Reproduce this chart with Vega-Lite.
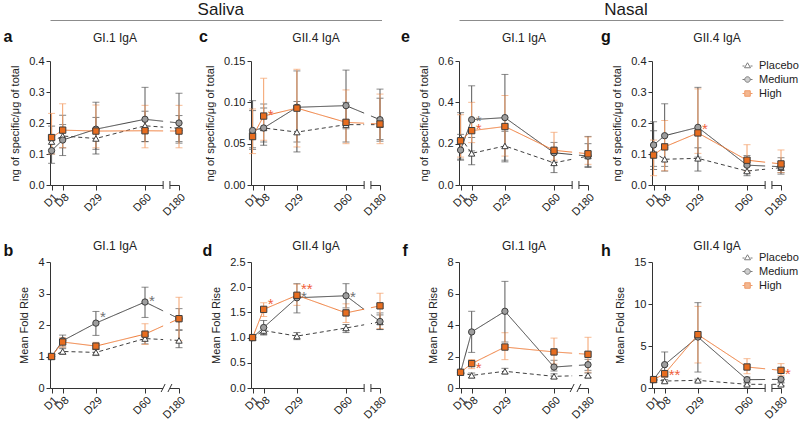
{
  "$schema": "https://vega.github.io/schema/vega-lite/v6.json",
  "background": "white",
  "padding": {"left": 3, "top": 0, "right": 0, "bottom": 0},
  "spacing": 9,
  "config": {
    "font": "Liberation Sans",
    "view": {"stroke": null},
    "axis": {"grid": false, "domainColor": "#333333", "tickColor": "#333333", "labelColor": "#222222", "titleColor": "#222222", "labelFontSize": 11, "titleFontSize": 11, "titleFontWeight": "normal", "labelFlush": false, "labelOverlap": false},
    "axisY": {"labelOverlap": false, "labelFlush": false}
  },
  "datasets": {
    "pts": [
      {"panel":"a","group":"Placebo","day":1,"mean":0.14,"lo":0.10,"hi":0.19},
      {"panel":"a","group":"Placebo","day":8,"mean":0.158,"lo":0.12,"hi":0.225},
      {"panel":"a","group":"Placebo","day":29,"mean":0.15,"lo":0.10,"hi":0.218},
      {"panel":"a","group":"Placebo","day":60,"mean":0.191,"lo":0.14,"hi":0.238},
      {"panel":"a","group":"Placebo","day":180,"mean":0.183,"lo":0.14,"hi":0.224},
      {"panel":"a","group":"Medium","day":1,"mean":0.111,"lo":0.07,"hi":0.155},
      {"panel":"a","group":"Medium","day":8,"mean":0.145,"lo":0.095,"hi":0.195},
      {"panel":"a","group":"Medium","day":29,"mean":0.18,"lo":0.115,"hi":0.267},
      {"panel":"a","group":"Medium","day":60,"mean":0.212,"lo":0.14,"hi":0.315},
      {"panel":"a","group":"Medium","day":180,"mean":0.20,"lo":0.135,"hi":0.296},
      {"panel":"a","group":"High","day":1,"mean":0.153,"lo":0.10,"hi":0.231},
      {"panel":"a","group":"High","day":8,"mean":0.177,"lo":0.12,"hi":0.262},
      {"panel":"a","group":"High","day":29,"mean":0.174,"lo":0.12,"hi":0.258},
      {"panel":"a","group":"High","day":60,"mean":0.175,"lo":0.12,"hi":0.257},
      {"panel":"a","group":"High","day":180,"mean":0.174,"lo":0.12,"hi":0.257},

      {"panel":"c","group":"Placebo","day":1,"mean":0.066,"lo":0.045,"hi":0.09},
      {"panel":"c","group":"Placebo","day":8,"mean":0.069,"lo":0.048,"hi":0.093},
      {"panel":"c","group":"Placebo","day":29,"mean":0.064,"lo":0.04,"hi":0.101},
      {"panel":"c","group":"Placebo","day":60,"mean":0.073,"lo":0.052,"hi":0.1},
      {"panel":"c","group":"Placebo","day":180,"mean":0.073,"lo":0.053,"hi":0.105},
      {"panel":"c","group":"Medium","day":1,"mean":0.066,"lo":0.043,"hi":0.102},
      {"panel":"c","group":"Medium","day":8,"mean":0.069,"lo":0.052,"hi":0.098},
      {"panel":"c","group":"Medium","day":29,"mean":0.094,"lo":0.052,"hi":0.138},
      {"panel":"c","group":"Medium","day":60,"mean":0.096,"lo":0.068,"hi":0.139},
      {"panel":"c","group":"Medium","day":180,"mean":0.079,"lo":0.055,"hi":0.116},
      {"panel":"c","group":"High","day":1,"mean":0.0586,"lo":0.038,"hi":0.092},
      {"panel":"c","group":"High","day":8,"mean":0.0834,"lo":0.054,"hi":0.129},
      {"panel":"c","group":"High","day":29,"mean":0.093,"lo":0.046,"hi":0.14},
      {"panel":"c","group":"High","day":60,"mean":0.0758,"lo":0.05,"hi":0.115},
      {"panel":"c","group":"High","day":180,"mean":0.0738,"lo":0.05,"hi":0.11},

      {"panel":"e","group":"Placebo","day":1,"mean":0.23,"lo":0.125,"hi":0.35},
      {"panel":"e","group":"Placebo","day":8,"mean":0.153,"lo":0.098,"hi":0.23},
      {"panel":"e","group":"Placebo","day":29,"mean":0.189,"lo":0.112,"hi":0.26},
      {"panel":"e","group":"Placebo","day":60,"mean":0.107,"lo":0.06,"hi":0.15},
      {"panel":"e","group":"Placebo","day":180,"mean":0.14,"lo":0.085,"hi":0.2},
      {"panel":"e","group":"Medium","day":1,"mean":0.169,"lo":0.12,"hi":0.245},
      {"panel":"e","group":"Medium","day":8,"mean":0.316,"lo":0.165,"hi":0.48},
      {"panel":"e","group":"Medium","day":29,"mean":0.326,"lo":0.12,"hi":0.535},
      {"panel":"e","group":"Medium","day":60,"mean":0.156,"lo":0.11,"hi":0.206},
      {"panel":"e","group":"Medium","day":180,"mean":0.14,"lo":0.09,"hi":0.235},
      {"panel":"e","group":"High","day":1,"mean":0.214,"lo":0.135,"hi":0.34},
      {"panel":"e","group":"High","day":8,"mean":0.263,"lo":0.205,"hi":0.40},
      {"panel":"e","group":"High","day":29,"mean":0.283,"lo":0.14,"hi":0.433},
      {"panel":"e","group":"High","day":60,"mean":0.168,"lo":0.12,"hi":0.255},
      {"panel":"e","group":"High","day":180,"mean":0.151,"lo":0.10,"hi":0.232},

      {"panel":"g","group":"Placebo","day":1,"mean":0.105,"lo":0.05,"hi":0.175},
      {"panel":"g","group":"Placebo","day":8,"mean":0.083,"lo":0.045,"hi":0.12},
      {"panel":"g","group":"Placebo","day":29,"mean":0.086,"lo":0.045,"hi":0.12},
      {"panel":"g","group":"Placebo","day":60,"mean":0.045,"lo":0.03,"hi":0.06},
      {"panel":"g","group":"Placebo","day":180,"mean":0.056,"lo":0.04,"hi":0.07},
      {"panel":"g","group":"Medium","day":1,"mean":0.129,"lo":0.06,"hi":0.204},
      {"panel":"g","group":"Medium","day":8,"mean":0.159,"lo":0.06,"hi":0.262},
      {"panel":"g","group":"Medium","day":29,"mean":0.186,"lo":0.09,"hi":0.315},
      {"panel":"g","group":"Medium","day":60,"mean":0.064,"lo":0.04,"hi":0.095},
      {"panel":"g","group":"Medium","day":180,"mean":0.059,"lo":0.035,"hi":0.088},
      {"panel":"g","group":"High","day":1,"mean":0.0965,"lo":0.03,"hi":0.145},
      {"panel":"g","group":"High","day":8,"mean":0.123,"lo":0.046,"hi":0.208},
      {"panel":"g","group":"High","day":29,"mean":0.168,"lo":0.102,"hi":0.31},
      {"panel":"g","group":"High","day":60,"mean":0.08,"lo":0.045,"hi":0.13},
      {"panel":"g","group":"High","day":180,"mean":0.068,"lo":0.04,"hi":0.113},

      {"panel":"b","group":"Placebo","day":1,"mean":1.0,"lo":null,"hi":null},
      {"panel":"b","group":"Placebo","day":8,"mean":1.16,"lo":1.07,"hi":1.25},
      {"panel":"b","group":"Placebo","day":29,"mean":1.13,"lo":1.03,"hi":1.22},
      {"panel":"b","group":"Placebo","day":60,"mean":1.57,"lo":1.4,"hi":1.65},
      {"panel":"b","group":"Placebo","day":180,"mean":1.51,"lo":1.28,"hi":1.83},
      {"panel":"b","group":"Medium","day":1,"mean":1.0,"lo":null,"hi":null},
      {"panel":"b","group":"Medium","day":8,"mean":1.5,"lo":1.3,"hi":1.68},
      {"panel":"b","group":"Medium","day":29,"mean":2.06,"lo":1.67,"hi":2.43},
      {"panel":"b","group":"Medium","day":60,"mean":2.73,"lo":2.24,"hi":3.2},
      {"panel":"b","group":"Medium","day":180,"mean":2.2,"lo":1.85,"hi":2.52},
      {"panel":"b","group":"High","day":1,"mean":1.0,"lo":null,"hi":null},
      {"panel":"b","group":"High","day":8,"mean":1.46,"lo":1.3,"hi":1.6},
      {"panel":"b","group":"High","day":29,"mean":1.33,"lo":1.22,"hi":1.45},
      {"panel":"b","group":"High","day":60,"mean":1.71,"lo":1.38,"hi":2.04},
      {"panel":"b","group":"High","day":180,"mean":2.2,"lo":1.5,"hi":2.88},

      {"panel":"d","group":"Placebo","day":1,"mean":1.0,"lo":null,"hi":null},
      {"panel":"d","group":"Placebo","day":8,"mean":1.14,"lo":1.06,"hi":1.2},
      {"panel":"d","group":"Placebo","day":29,"mean":1.03,"lo":0.96,"hi":1.1},
      {"panel":"d","group":"Placebo","day":60,"mean":1.19,"lo":1.1,"hi":1.26},
      {"panel":"d","group":"Placebo","day":180,"mean":1.31,"lo":1.16,"hi":1.45},
      {"panel":"d","group":"Medium","day":1,"mean":1.0,"lo":null,"hi":null},
      {"panel":"d","group":"Medium","day":8,"mean":1.2,"lo":1.05,"hi":1.34},
      {"panel":"d","group":"Medium","day":29,"mean":1.79,"lo":1.49,"hi":2.07},
      {"panel":"d","group":"Medium","day":60,"mean":1.83,"lo":1.59,"hi":2.07},
      {"panel":"d","group":"Medium","day":180,"mean":1.32,"lo":1.16,"hi":1.49},
      {"panel":"d","group":"High","day":1,"mean":1.0,"lo":null,"hi":null},
      {"panel":"d","group":"High","day":8,"mean":1.56,"lo":1.42,"hi":1.69},
      {"panel":"d","group":"High","day":29,"mean":1.84,"lo":1.64,"hi":2.06},
      {"panel":"d","group":"High","day":60,"mean":1.49,"lo":1.3,"hi":1.67},
      {"panel":"d","group":"High","day":180,"mean":1.63,"lo":1.18,"hi":1.88},

      {"panel":"f","group":"Placebo","day":1,"mean":1.0,"lo":null,"hi":null},
      {"panel":"f","group":"Placebo","day":8,"mean":0.8,"lo":0.65,"hi":0.95},
      {"panel":"f","group":"Placebo","day":29,"mean":1.06,"lo":0.9,"hi":1.25},
      {"panel":"f","group":"Placebo","day":60,"mean":0.74,"lo":0.6,"hi":0.9},
      {"panel":"f","group":"Placebo","day":180,"mean":0.8,"lo":0.65,"hi":0.95},
      {"panel":"f","group":"Medium","day":1,"mean":1.0,"lo":null,"hi":null},
      {"panel":"f","group":"Medium","day":8,"mean":3.56,"lo":2.26,"hi":4.87},
      {"panel":"f","group":"Medium","day":29,"mean":4.87,"lo":2.92,"hi":6.77},
      {"panel":"f","group":"Medium","day":60,"mean":1.33,"lo":1.08,"hi":1.76},
      {"panel":"f","group":"Medium","day":180,"mean":1.48,"lo":1.12,"hi":1.82},
      {"panel":"f","group":"High","day":1,"mean":1.0,"lo":null,"hi":null},
      {"panel":"f","group":"High","day":8,"mean":1.55,"lo":1.23,"hi":1.8},
      {"panel":"f","group":"High","day":29,"mean":2.6,"lo":1.8,"hi":3.51},
      {"panel":"f","group":"High","day":60,"mean":2.29,"lo":1.52,"hi":3.17},
      {"panel":"f","group":"High","day":180,"mean":2.14,"lo":1.0,"hi":3.22},

      {"panel":"h","group":"Placebo","day":1,"mean":1.0,"lo":null,"hi":null},
      {"panel":"h","group":"Placebo","day":8,"mean":0.83,"lo":0.7,"hi":1.0},
      {"panel":"h","group":"Placebo","day":29,"mean":0.91,"lo":0.8,"hi":1.05},
      {"panel":"h","group":"Placebo","day":60,"mean":0.44,"lo":0.3,"hi":0.6},
      {"panel":"h","group":"Placebo","day":180,"mean":0.44,"lo":0.3,"hi":0.6},
      {"panel":"h","group":"Medium","day":1,"mean":1.0,"lo":null,"hi":null},
      {"panel":"h","group":"Medium","day":8,"mean":2.78,"lo":1.3,"hi":4.29},
      {"panel":"h","group":"Medium","day":29,"mean":6.07,"lo":1.9,"hi":10.16},
      {"panel":"h","group":"Medium","day":60,"mean":0.99,"lo":0.7,"hi":1.3},
      {"panel":"h","group":"Medium","day":180,"mean":1.03,"lo":0.7,"hi":1.3},
      {"panel":"h","group":"High","day":1,"mean":1.0,"lo":null,"hi":null},
      {"panel":"h","group":"High","day":8,"mean":1.7,"lo":1.3,"hi":2.1},
      {"panel":"h","group":"High","day":29,"mean":6.35,"lo":2.98,"hi":9.72},
      {"panel":"h","group":"High","day":60,"mean":2.5,"lo":1.7,"hi":3.49},
      {"panel":"h","group":"High","day":180,"mean":2.1,"lo":1.5,"hi":2.9}
    ],
    "stars": [
      {"panel":"c","group":"High","day":8,"at":0.09,"sig":"*"},
      {"panel":"e","group":"Medium","day":8,"at":0.33,"sig":"*"},
      {"panel":"e","group":"High","day":8,"at":0.29,"sig":"*"},
      {"panel":"g","group":"High","day":29,"at":0.195,"sig":"*"},
      {"panel":"b","group":"Medium","day":29,"at":2.39,"sig":"*"},
      {"panel":"b","group":"Medium","day":60,"at":2.89,"sig":"*"},
      {"panel":"d","group":"High","day":8,"at":1.75,"sig":"*"},
      {"panel":"d","group":"High","day":29,"at":2.04,"sig":"**"},
      {"panel":"d","group":"Medium","day":29,"at":1.89,"sig":"*"},
      {"panel":"d","group":"Medium","day":60,"at":1.89,"sig":"*"},
      {"panel":"f","group":"High","day":8,"at":1.55,"sig":"*"},
      {"panel":"h","group":"High","day":8,"at":1.98,"sig":"**"},
      {"panel":"h","group":"High","day":180,"at":2.18,"sig":"*"}
    ]
  },
  "vconcat": [
    {
      "bounds": "flush", "spacing": 77,
      "hconcat": [
        {"width": 331.5, "height": 20, "data": {"values": [{"region": "Saliva"}]},
         "mark": {"type": "text", "fontSize": 17, "color": "#1a1a1a", "dx": 5},
         "encoding": {"x": {"field": "region", "type": "nominal", "axis": {"title": null, "labels": false, "ticks": false, "domain": true, "domainColor": "#8c8c8c"}}, "text": {"field": "region"}}},
        {"width": 324, "height": 20, "data": {"values": [{"region": "Nasal"}]},
         "mark": {"type": "text", "fontSize": 17, "color": "#1a1a1a", "dx": 5},
         "encoding": {"x": {"field": "region", "type": "nominal", "axis": {"title": null, "labels": false, "ticks": false, "domain": true, "domainColor": "#8c8c8c"}}, "text": {"field": "region"}}}
      ]
    },
    {
      "spacing": 21,
      "vconcat": [
        {
          "bounds": "flush", "spacing": 62,
          "hconcat": [
              {"width": 138.5, "height": 124,
               "title": {"text": "a", "anchor": "start", "frame": "group", "dx": -46.5, "dy": 14, "offset": 0, "fontSize": 16, "fontWeight": "bold", "color": "#111111"},
               "data": {"name": "pts"},
               "resolve": {"scale": {"color": "independent", "fill": "independent", "shape": "independent", "stroke": "independent", "strokeDash": "independent"}, "axis": {"x": "independent"}},
               "layer": [
                 {"transform": [{"filter": "datum.panel==='a'"}], "mark": {"type": "errorbar", "ticks": {"size": 7, "thickness": 1}, "rule": {"strokeWidth": 1}},
                  "encoding": {"x": {"field": "day", "type": "quantitative", "scale": {"domain": [0,60,180], "range": [0,95,129], "nice": false, "zero": false}, "axis": null},
                    "y": {"field": "lo", "type": "quantitative", "title": "ng of specific/μg of total", "scale": {"domain": [0,0.4], "nice": false},
                      "axis": {"values": [0,0.1,0.2,0.3,0.4], "tickCount": 10, "format": ".1f", "title": "ng of specific/μg of total", "tickSize": 4, "labelPadding": 2, "titlePadding": 8, "labelOverlap": false}}, "y2": {"field": "hi"},
                    "color": {"field": "group", "type": "nominal", "scale": {"domain": ["Placebo","Medium","High"], "range": ["#4d4d4d","#5a5a5a","#f4a06a"]}, "legend": null}}},
                 {"transform": [{"filter": "datum.panel==='a'"}], "mark": {"type": "line", "strokeWidth": 1},
                  "encoding": {"x": {"field": "day", "type": "quantitative", "scale": {"domain": [0,60,180], "range": [0,95,129], "nice": false, "zero": false}, "axis": null},
                    "y": {"field": "mean", "type": "quantitative", "scale": {"domain": [0,0.4], "nice": false}},
                    "color": {"field": "group", "type": "nominal", "scale": {"domain": ["Placebo","Medium","High"], "range": ["#3f3f3f","#3f3f3f","#ef7a36"]}, "legend": null},
                    "strokeDash": {"field": "group", "type": "nominal", "scale": {"domain": ["Placebo","Medium","High"], "range": [[4,3],[1,0],[1,0]]}, "legend": null}}},
                 {"transform": [{"filter": "datum.panel==='a'"}], "mark": {"type": "point", "filled": true, "size": 40, "stroke": "#3d3d3d", "strokeWidth": 1, "opacity": 1},
                  "encoding": {"x": {"field": "day", "type": "quantitative", "scale": {"domain": [0,60,180], "range": [0,95,129], "nice": false, "zero": false},
                      "axis": {"values": [1,8,29,60,180], "tickCount": 10, "labelExpr": "'D' + datum.value", "labelAngle": -45, "title": null, "tickSize": 5, "labelPadding": 1}},
                    "y": {"field": "mean", "type": "quantitative", "scale": {"domain": [0,0.4], "nice": false},
                      "axis": {"values": [0,0.1,0.2,0.3,0.4], "tickCount": 10, "format": ".1f", "title": "ng of specific/μg of total", "tickSize": 4, "labelPadding": 2, "titlePadding": 8, "labelOverlap": false}},
                    "shape": {"field": "group", "type": "nominal", "scale": {"domain": ["Placebo","Medium","High"], "range": ["triangle-up","circle","square"]}, "legend": null},
                    "fill": {"field": "group", "type": "nominal", "scale": {"domain": ["Placebo","Medium","High"], "range": ["#ffffff","#9e9e9e","#e86d1f"]}, "legend": null}}},
                 {"data": {"values": [{}]}, "mark": {"type": "rect", "fill": "#ffffff", "yOffset": 3},
                  "encoding": {"x": {"datum": 124, "type": "quantitative", "scale": {"domain": [0,60,180], "range": [0,95,129], "nice": false, "zero": false},
                      "axis": {"orient": "top", "title": "GI.1 IgA", "labels": false, "ticks": false, "domain": false, "titleFontSize": 12, "titleFontWeight": "normal", "titlePadding": 17}},
                    "x2": {"datum": 148}, "y": {"datum": 0, "type": "quantitative", "scale": {"domain": [0,0.4], "nice": false}}, "y2": {"datum": 0.4}}},
                 {"data": {"values": [{}]}, "mark": {"type": "rule", "color": "#333333", "strokeWidth": 1, "yOffset": 4, "y2Offset": -4},
                  "encoding": {"x": {"datum": 124, "type": "quantitative", "scale": {"domain": [0,60,180], "range": [0,95,129], "nice": false, "zero": false}, "axis": null},
                    "y": {"datum": 0, "type": "quantitative", "scale": {"domain": [0,0.4], "nice": false}}, "y2": {"datum": 0}}},
                 {"data": {"values": [{}]}, "mark": {"type": "rule", "color": "#333333", "strokeWidth": 1, "yOffset": 4, "y2Offset": -4},
                  "encoding": {"x": {"datum": 148, "type": "quantitative", "scale": {"domain": [0,60,180], "range": [0,95,129], "nice": false, "zero": false}, "axis": null},
                    "y": {"datum": 0, "type": "quantitative", "scale": {"domain": [0,0.4], "nice": false}}, "y2": {"datum": 0}}}
               ]},
              {"width": 146, "height": 124,
               "title": {"text": "c", "anchor": "start", "frame": "group", "dx": -52, "dy": 14, "offset": 0, "fontSize": 16, "fontWeight": "bold", "color": "#111111"},
               "data": {"name": "pts"},
               "resolve": {"scale": {"color": "independent", "fill": "independent", "shape": "independent", "stroke": "independent", "strokeDash": "independent"}, "axis": {"x": "independent"}},
               "layer": [
                 {"transform": [{"filter": "datum.panel==='c'"}], "mark": {"type": "errorbar", "ticks": {"size": 7, "thickness": 1}, "rule": {"strokeWidth": 1}},
                  "encoding": {"x": {"field": "day", "type": "quantitative", "scale": {"domain": [0,60,180], "range": [0,95,129], "nice": false, "zero": false}, "axis": null},
                    "y": {"field": "lo", "type": "quantitative", "title": "ng of specific/μg of total", "scale": {"domain": [0,0.15], "nice": false},
                      "axis": {"values": [0,0.05,0.1,0.15], "tickCount": 10, "format": ".2f", "title": "ng of specific/μg of total", "tickSize": 4, "labelPadding": 2, "titlePadding": 8, "labelOverlap": false}}, "y2": {"field": "hi"},
                    "color": {"field": "group", "type": "nominal", "scale": {"domain": ["Placebo","Medium","High"], "range": ["#4d4d4d","#5a5a5a","#f4a06a"]}, "legend": null}}},
                 {"transform": [{"filter": "datum.panel==='c'"}], "mark": {"type": "line", "strokeWidth": 1},
                  "encoding": {"x": {"field": "day", "type": "quantitative", "scale": {"domain": [0,60,180], "range": [0,95,129], "nice": false, "zero": false}, "axis": null},
                    "y": {"field": "mean", "type": "quantitative", "scale": {"domain": [0,0.15], "nice": false}},
                    "color": {"field": "group", "type": "nominal", "scale": {"domain": ["Placebo","Medium","High"], "range": ["#3f3f3f","#3f3f3f","#ef7a36"]}, "legend": null},
                    "strokeDash": {"field": "group", "type": "nominal", "scale": {"domain": ["Placebo","Medium","High"], "range": [[4,3],[1,0],[1,0]]}, "legend": null}}},
                 {"transform": [{"filter": "datum.panel==='c'"}], "mark": {"type": "point", "filled": true, "size": 40, "stroke": "#3d3d3d", "strokeWidth": 1, "opacity": 1},
                  "encoding": {"x": {"field": "day", "type": "quantitative", "scale": {"domain": [0,60,180], "range": [0,95,129], "nice": false, "zero": false},
                      "axis": {"values": [1,8,29,60,180], "tickCount": 10, "labelExpr": "'D' + datum.value", "labelAngle": -45, "title": null, "tickSize": 5, "labelPadding": 1}},
                    "y": {"field": "mean", "type": "quantitative", "scale": {"domain": [0,0.15], "nice": false},
                      "axis": {"values": [0,0.05,0.1,0.15], "tickCount": 10, "format": ".2f", "title": "ng of specific/μg of total", "tickSize": 4, "labelPadding": 2, "titlePadding": 8, "labelOverlap": false}},
                    "shape": {"field": "group", "type": "nominal", "scale": {"domain": ["Placebo","Medium","High"], "range": ["triangle-up","circle","square"]}, "legend": null},
                    "fill": {"field": "group", "type": "nominal", "scale": {"domain": ["Placebo","Medium","High"], "range": ["#ffffff","#9e9e9e","#e86d1f"]}, "legend": null}}},
                 {"data": {"name": "stars"}, "transform": [{"filter": "datum.panel==='c'"}], "mark": {"type": "text", "align": "left", "baseline": "middle", "dx": 4, "dy": 4, "fontSize": 15},
                  "encoding": {"x": {"field": "day", "type": "quantitative", "scale": {"domain": [0,60,180], "range": [0,95,129], "nice": false, "zero": false}, "axis": null},
                    "y": {"field": "at", "type": "quantitative", "scale": {"domain": [0,0.15], "nice": false}},
                    "text": {"field": "sig"},
                    "color": {"field": "group", "type": "nominal", "scale": {"domain": ["Medium","High"], "range": ["#707070","#f0603a"]}, "legend": null}}},
                 {"data": {"values": [{}]}, "mark": {"type": "rect", "fill": "#ffffff", "yOffset": 3},
                  "encoding": {"x": {"datum": 124, "type": "quantitative", "scale": {"domain": [0,60,180], "range": [0,95,129], "nice": false, "zero": false},
                      "axis": {"orient": "top", "title": "GII.4 IgA", "labels": false, "ticks": false, "domain": false, "titleFontSize": 12, "titleFontWeight": "normal", "titlePadding": 17}},
                    "x2": {"datum": 148}, "y": {"datum": 0, "type": "quantitative", "scale": {"domain": [0,0.15], "nice": false}}, "y2": {"datum": 0.15}}},
                 {"data": {"values": [{}]}, "mark": {"type": "rule", "color": "#333333", "strokeWidth": 1, "yOffset": 4, "y2Offset": -4},
                  "encoding": {"x": {"datum": 124, "type": "quantitative", "scale": {"domain": [0,60,180], "range": [0,95,129], "nice": false, "zero": false}, "axis": null},
                    "y": {"datum": 0, "type": "quantitative", "scale": {"domain": [0,0.15], "nice": false}}, "y2": {"datum": 0}}},
                 {"data": {"values": [{}]}, "mark": {"type": "rule", "color": "#333333", "strokeWidth": 1, "yOffset": 4, "y2Offset": -4},
                  "encoding": {"x": {"datum": 148, "type": "quantitative", "scale": {"domain": [0,60,180], "range": [0,95,129], "nice": false, "zero": false}, "axis": null},
                    "y": {"datum": 0, "type": "quantitative", "scale": {"domain": [0,0.15], "nice": false}}, "y2": {"datum": 0}}}
               ]},
              {"width": 131, "height": 124,
               "title": {"text": "e", "anchor": "start", "frame": "group", "dx": -58, "dy": 14, "offset": 0, "fontSize": 16, "fontWeight": "bold", "color": "#111111"},
               "data": {"name": "pts"},
               "resolve": {"scale": {"color": "independent", "fill": "independent", "shape": "independent", "stroke": "independent", "strokeDash": "independent"}, "axis": {"x": "independent"}},
               "layer": [
                 {"transform": [{"filter": "datum.panel==='e'"}], "mark": {"type": "errorbar", "ticks": {"size": 7, "thickness": 1}, "rule": {"strokeWidth": 1}},
                  "encoding": {"x": {"field": "day", "type": "quantitative", "scale": {"domain": [0,60,180], "range": [0,95,129], "nice": false, "zero": false}, "axis": null},
                    "y": {"field": "lo", "type": "quantitative", "title": "ng of specific/μg of total", "scale": {"domain": [0,0.6], "nice": false},
                      "axis": {"values": [0,0.2,0.4,0.6], "tickCount": 10, "format": ".1f", "title": "ng of specific/μg of total", "tickSize": 4, "labelPadding": 2, "titlePadding": 8, "labelOverlap": false}}, "y2": {"field": "hi"},
                    "color": {"field": "group", "type": "nominal", "scale": {"domain": ["Placebo","Medium","High"], "range": ["#4d4d4d","#5a5a5a","#f4a06a"]}, "legend": null}}},
                 {"transform": [{"filter": "datum.panel==='e'"}], "mark": {"type": "line", "strokeWidth": 1},
                  "encoding": {"x": {"field": "day", "type": "quantitative", "scale": {"domain": [0,60,180], "range": [0,95,129], "nice": false, "zero": false}, "axis": null},
                    "y": {"field": "mean", "type": "quantitative", "scale": {"domain": [0,0.6], "nice": false}},
                    "color": {"field": "group", "type": "nominal", "scale": {"domain": ["Placebo","Medium","High"], "range": ["#3f3f3f","#3f3f3f","#ef7a36"]}, "legend": null},
                    "strokeDash": {"field": "group", "type": "nominal", "scale": {"domain": ["Placebo","Medium","High"], "range": [[4,3],[1,0],[1,0]]}, "legend": null}}},
                 {"transform": [{"filter": "datum.panel==='e'"}], "mark": {"type": "point", "filled": true, "size": 40, "stroke": "#3d3d3d", "strokeWidth": 1, "opacity": 1},
                  "encoding": {"x": {"field": "day", "type": "quantitative", "scale": {"domain": [0,60,180], "range": [0,95,129], "nice": false, "zero": false},
                      "axis": {"values": [1,8,29,60,180], "tickCount": 10, "labelExpr": "'D' + datum.value", "labelAngle": -45, "title": null, "tickSize": 5, "labelPadding": 1}},
                    "y": {"field": "mean", "type": "quantitative", "scale": {"domain": [0,0.6], "nice": false},
                      "axis": {"values": [0,0.2,0.4,0.6], "tickCount": 10, "format": ".1f", "title": "ng of specific/μg of total", "tickSize": 4, "labelPadding": 2, "titlePadding": 8, "labelOverlap": false}},
                    "shape": {"field": "group", "type": "nominal", "scale": {"domain": ["Placebo","Medium","High"], "range": ["triangle-up","circle","square"]}, "legend": null},
                    "fill": {"field": "group", "type": "nominal", "scale": {"domain": ["Placebo","Medium","High"], "range": ["#ffffff","#9e9e9e","#e86d1f"]}, "legend": null}}},
                 {"data": {"name": "stars"}, "transform": [{"filter": "datum.panel==='e'"}], "mark": {"type": "text", "align": "left", "baseline": "middle", "dx": 4, "dy": 4, "fontSize": 15},
                  "encoding": {"x": {"field": "day", "type": "quantitative", "scale": {"domain": [0,60,180], "range": [0,95,129], "nice": false, "zero": false}, "axis": null},
                    "y": {"field": "at", "type": "quantitative", "scale": {"domain": [0,0.6], "nice": false}},
                    "text": {"field": "sig"},
                    "color": {"field": "group", "type": "nominal", "scale": {"domain": ["Medium","High"], "range": ["#707070","#f0603a"]}, "legend": null}}},
                 {"data": {"values": [{}]}, "mark": {"type": "rect", "fill": "#ffffff", "yOffset": 3},
                  "encoding": {"x": {"datum": 124, "type": "quantitative", "scale": {"domain": [0,60,180], "range": [0,95,129], "nice": false, "zero": false},
                      "axis": {"orient": "top", "title": "GI.1 IgA", "labels": false, "ticks": false, "domain": false, "titleFontSize": 12, "titleFontWeight": "normal", "titlePadding": 17}},
                    "x2": {"datum": 148}, "y": {"datum": 0, "type": "quantitative", "scale": {"domain": [0,0.6], "nice": false}}, "y2": {"datum": 0.6}}},
                 {"data": {"values": [{}]}, "mark": {"type": "rule", "color": "#333333", "strokeWidth": 1, "yOffset": 4, "y2Offset": -4},
                  "encoding": {"x": {"datum": 124, "type": "quantitative", "scale": {"domain": [0,60,180], "range": [0,95,129], "nice": false, "zero": false}, "axis": null},
                    "y": {"datum": 0, "type": "quantitative", "scale": {"domain": [0,0.6], "nice": false}}, "y2": {"datum": 0}}},
                 {"data": {"values": [{}]}, "mark": {"type": "rule", "color": "#333333", "strokeWidth": 1, "yOffset": 4, "y2Offset": -4},
                  "encoding": {"x": {"datum": 148, "type": "quantitative", "scale": {"domain": [0,60,180], "range": [0,95,129], "nice": false, "zero": false}, "axis": null},
                    "y": {"datum": 0, "type": "quantitative", "scale": {"domain": [0,0.6], "nice": false}}, "y2": {"datum": 0}}}
               ]},
              {"width": 131, "height": 124,
               "title": {"text": "g", "anchor": "start", "frame": "group", "dx": -51, "dy": 14, "offset": 0, "fontSize": 16, "fontWeight": "bold", "color": "#111111"},
               "data": {"name": "pts"},
               "resolve": {"scale": {"color": "independent", "fill": "independent", "shape": "independent", "stroke": "independent", "strokeDash": "independent"}, "axis": {"x": "independent"}},
               "layer": [
                 {"transform": [{"filter": "datum.panel==='g'"}], "mark": {"type": "errorbar", "ticks": {"size": 7, "thickness": 1}, "rule": {"strokeWidth": 1}},
                  "encoding": {"x": {"field": "day", "type": "quantitative", "scale": {"domain": [0,60,180], "range": [0,95,129], "nice": false, "zero": false}, "axis": null},
                    "y": {"field": "lo", "type": "quantitative", "title": "ng of specific/μg of total", "scale": {"domain": [0,0.4], "nice": false},
                      "axis": {"values": [0,0.1,0.2,0.3,0.4], "tickCount": 10, "format": ".1f", "title": "ng of specific/μg of total", "tickSize": 4, "labelPadding": 2, "titlePadding": 8, "labelOverlap": false}}, "y2": {"field": "hi"},
                    "color": {"field": "group", "type": "nominal", "scale": {"domain": ["Placebo","Medium","High"], "range": ["#4d4d4d","#5a5a5a","#f4a06a"]}, "legend": null}}},
                 {"transform": [{"filter": "datum.panel==='g'"}], "mark": {"type": "line", "strokeWidth": 1},
                  "encoding": {"x": {"field": "day", "type": "quantitative", "scale": {"domain": [0,60,180], "range": [0,95,129], "nice": false, "zero": false}, "axis": null},
                    "y": {"field": "mean", "type": "quantitative", "scale": {"domain": [0,0.4], "nice": false}},
                    "color": {"field": "group", "type": "nominal", "scale": {"domain": ["Placebo","Medium","High"], "range": ["#3f3f3f","#3f3f3f","#ef7a36"]}, "legend": null},
                    "strokeDash": {"field": "group", "type": "nominal", "scale": {"domain": ["Placebo","Medium","High"], "range": [[4,3],[1,0],[1,0]]}, "legend": null}}},
                 {"transform": [{"filter": "datum.panel==='g'"}], "mark": {"type": "point", "filled": true, "size": 40, "stroke": "#3d3d3d", "strokeWidth": 1, "opacity": 1},
                  "encoding": {"x": {"field": "day", "type": "quantitative", "scale": {"domain": [0,60,180], "range": [0,95,129], "nice": false, "zero": false},
                      "axis": {"values": [1,8,29,60,180], "tickCount": 10, "labelExpr": "'D' + datum.value", "labelAngle": -45, "title": null, "tickSize": 5, "labelPadding": 1}},
                    "y": {"field": "mean", "type": "quantitative", "scale": {"domain": [0,0.4], "nice": false},
                      "axis": {"values": [0,0.1,0.2,0.3,0.4], "tickCount": 10, "format": ".1f", "title": "ng of specific/μg of total", "tickSize": 4, "labelPadding": 2, "titlePadding": 8, "labelOverlap": false}},
                    "shape": {"field": "group", "type": "nominal", "scale": {"domain": ["Placebo","Medium","High"], "range": ["triangle-up","circle","square"]}, "legend": null},
                    "fill": {"field": "group", "type": "nominal", "scale": {"domain": ["Placebo","Medium","High"], "range": ["#ffffff","#9e9e9e","#e86d1f"]}, "legend": null}}},
                 {"data": {"name": "stars"}, "transform": [{"filter": "datum.panel==='g'"}], "mark": {"type": "text", "align": "left", "baseline": "middle", "dx": 4, "dy": 4, "fontSize": 15},
                  "encoding": {"x": {"field": "day", "type": "quantitative", "scale": {"domain": [0,60,180], "range": [0,95,129], "nice": false, "zero": false}, "axis": null},
                    "y": {"field": "at", "type": "quantitative", "scale": {"domain": [0,0.4], "nice": false}},
                    "text": {"field": "sig"},
                    "color": {"field": "group", "type": "nominal", "scale": {"domain": ["Medium","High"], "range": ["#707070","#f0603a"]}, "legend": null}}},
                 {"data": {"values": [{}]}, "mark": {"type": "rect", "fill": "#ffffff", "yOffset": 3},
                  "encoding": {"x": {"datum": 124, "type": "quantitative", "scale": {"domain": [0,60,180], "range": [0,95,129], "nice": false, "zero": false},
                      "axis": {"orient": "top", "title": "GII.4 IgA", "labels": false, "ticks": false, "domain": false, "titleFontSize": 12, "titleFontWeight": "normal", "titlePadding": 17}},
                    "x2": {"datum": 148}, "y": {"datum": 0, "type": "quantitative", "scale": {"domain": [0,0.4], "nice": false}}, "y2": {"datum": 0.4}}},
                 {"data": {"values": [{}]}, "mark": {"type": "rule", "color": "#333333", "strokeWidth": 1, "yOffset": 4, "y2Offset": -4},
                  "encoding": {"x": {"datum": 124, "type": "quantitative", "scale": {"domain": [0,60,180], "range": [0,95,129], "nice": false, "zero": false}, "axis": null},
                    "y": {"datum": 0, "type": "quantitative", "scale": {"domain": [0,0.4], "nice": false}}, "y2": {"datum": 0}}},
                 {"data": {"values": [{}]}, "mark": {"type": "rule", "color": "#333333", "strokeWidth": 1, "yOffset": 4, "y2Offset": -4},
                  "encoding": {"x": {"datum": 148, "type": "quantitative", "scale": {"domain": [0,60,180], "range": [0,95,129], "nice": false, "zero": false}, "axis": null},
                    "y": {"datum": 0, "type": "quantitative", "scale": {"domain": [0,0.4], "nice": false}}, "y2": {"datum": 0}}},
                 {"transform": [{"filter": "false"}], "mark": {"type": "point", "filled": true, "strokeWidth": 1},
                  "encoding": {"x": {"field": "day", "type": "quantitative", "scale": {"domain": [0,60,180], "range": [0,95,129], "nice": false, "zero": false}, "axis": null},
                    "y": {"field": "mean", "type": "quantitative", "scale": {"domain": [0,0.4], "nice": false}},
                    "shape": {"field": "group", "type": "nominal", "scale": {"domain": ["Placebo","Medium","High"], "range": ["M-1,0.1H-0.6M0.6,0.1H1M0,-0.55L0.6,0.45L-0.6,0.45Z", "M-1,0H-0.55M0.55,0H1M-0.55,0A0.55,0.55,0,1,1,0.55,0A0.55,0.55,0,1,1,-0.55,0Z", "M-1,0H-0.55M0.55,0H1M-0.55,-0.55H0.55V0.55H-0.55Z"]},
                      "legend": {"orient": "none", "legendX": 90, "legendY": -1, "title": null, "labelFontSize": 11, "labelColor": "#222222", "symbolSize": 100, "symbolStrokeWidth": 1, "labelOffset": 6, "rowPadding": 2, "padding": 0}},
                    "fill": {"field": "group", "type": "nominal", "scale": {"domain": ["Placebo","Medium","High"], "range": ["#ffffff","#9e9e9e","#e86d1f"]},
                      "legend": {"orient": "none", "legendX": 90, "legendY": -1, "title": null, "labelFontSize": 11, "labelColor": "#222222", "symbolSize": 100, "symbolStrokeWidth": 1, "labelOffset": 6, "rowPadding": 2, "padding": 0}},
                    "stroke": {"field": "group", "type": "nominal", "scale": {"domain": ["Placebo","Medium","High"], "range": ["#444444","#444444","#e8702a"]},
                      "legend": {"orient": "none", "legendX": 90, "legendY": -1, "title": null, "labelFontSize": 11, "labelColor": "#222222", "symbolSize": 100, "symbolStrokeWidth": 1, "labelOffset": 6, "rowPadding": 2, "padding": 0}}}}
               ]}
          ]
        },
        {
          "bounds": "flush", "spacing": 62,
          "hconcat": [
              {"width": 138.5, "height": 126,
               "title": {"text": "b", "anchor": "start", "frame": "group", "dx": -46.5, "dy": 19, "offset": 0, "fontSize": 16, "fontWeight": "bold", "color": "#111111"},
               "data": {"name": "pts"},
               "resolve": {"scale": {"color": "independent", "fill": "independent", "shape": "independent", "stroke": "independent", "strokeDash": "independent"}, "axis": {"x": "independent"}},
               "layer": [
                 {"transform": [{"filter": "datum.panel==='b'"}], "mark": {"type": "errorbar", "ticks": {"size": 7, "thickness": 1}, "rule": {"strokeWidth": 1}},
                  "encoding": {"x": {"field": "day", "type": "quantitative", "scale": {"domain": [0,60,180], "range": [0,95,129], "nice": false, "zero": false}, "axis": null},
                    "y": {"field": "lo", "type": "quantitative", "title": "Mean Fold Rise", "scale": {"domain": [0,4], "nice": false},
                      "axis": {"values": [0,1,2,3,4], "tickCount": 10, "format": "d", "title": "Mean Fold Rise", "tickSize": 4, "labelPadding": 2, "titlePadding": 8, "labelOverlap": false}}, "y2": {"field": "hi"},
                    "color": {"field": "group", "type": "nominal", "scale": {"domain": ["Placebo","Medium","High"], "range": ["#4d4d4d","#5a5a5a","#f4a06a"]}, "legend": null}}},
                 {"transform": [{"filter": "datum.panel==='b'"}], "mark": {"type": "line", "strokeWidth": 1},
                  "encoding": {"x": {"field": "day", "type": "quantitative", "scale": {"domain": [0,60,180], "range": [0,95,129], "nice": false, "zero": false}, "axis": null},
                    "y": {"field": "mean", "type": "quantitative", "scale": {"domain": [0,4], "nice": false}},
                    "color": {"field": "group", "type": "nominal", "scale": {"domain": ["Placebo","Medium","High"], "range": ["#3f3f3f","#3f3f3f","#ef7a36"]}, "legend": null},
                    "strokeDash": {"field": "group", "type": "nominal", "scale": {"domain": ["Placebo","Medium","High"], "range": [[4,3],[1,0],[1,0]]}, "legend": null}}},
                 {"transform": [{"filter": "datum.panel==='b'"}], "mark": {"type": "point", "filled": true, "size": 40, "stroke": "#3d3d3d", "strokeWidth": 1, "opacity": 1},
                  "encoding": {"x": {"field": "day", "type": "quantitative", "scale": {"domain": [0,60,180], "range": [0,95,129], "nice": false, "zero": false},
                      "axis": {"values": [1,8,29,60,180], "tickCount": 10, "labelExpr": "'D' + datum.value", "labelAngle": -45, "title": null, "tickSize": 5, "labelPadding": 1}},
                    "y": {"field": "mean", "type": "quantitative", "scale": {"domain": [0,4], "nice": false},
                      "axis": {"values": [0,1,2,3,4], "tickCount": 10, "format": "d", "title": "Mean Fold Rise", "tickSize": 4, "labelPadding": 2, "titlePadding": 8, "labelOverlap": false}},
                    "shape": {"field": "group", "type": "nominal", "scale": {"domain": ["Placebo","Medium","High"], "range": ["triangle-up","circle","square"]}, "legend": null},
                    "fill": {"field": "group", "type": "nominal", "scale": {"domain": ["Placebo","Medium","High"], "range": ["#ffffff","#9e9e9e","#e86d1f"]}, "legend": null}}},
                 {"data": {"name": "stars"}, "transform": [{"filter": "datum.panel==='b'"}], "mark": {"type": "text", "align": "left", "baseline": "middle", "dx": 4, "dy": 4, "fontSize": 15},
                  "encoding": {"x": {"field": "day", "type": "quantitative", "scale": {"domain": [0,60,180], "range": [0,95,129], "nice": false, "zero": false}, "axis": null},
                    "y": {"field": "at", "type": "quantitative", "scale": {"domain": [0,4], "nice": false}},
                    "text": {"field": "sig"},
                    "color": {"field": "group", "type": "nominal", "scale": {"domain": ["Medium","High"], "range": ["#707070","#f0603a"]}, "legend": null}}},
                 {"data": {"values": [{}]}, "mark": {"type": "rect", "fill": "#ffffff", "yOffset": 3},
                  "encoding": {"x": {"datum": 124, "type": "quantitative", "scale": {"domain": [0,60,180], "range": [0,95,129], "nice": false, "zero": false},
                      "axis": {"orient": "top", "title": "GI.1 IgA", "labels": false, "ticks": false, "domain": false, "titleFontSize": 12, "titleFontWeight": "normal", "titlePadding": 9.5}},
                    "x2": {"datum": 148}, "y": {"datum": 0, "type": "quantitative", "scale": {"domain": [0,4], "nice": false}}, "y2": {"datum": 4}}},
                 {"data": {"values": [{}]}, "mark": {"type": "rule", "color": "#333333", "strokeWidth": 1, "xOffset": -2, "x2Offset": 2, "yOffset": 4, "y2Offset": -4},
                  "encoding": {"x": {"datum": 124, "type": "quantitative", "scale": {"domain": [0,60,180], "range": [0,95,129], "nice": false, "zero": false}, "axis": null}, "x2": {"datum": 124},
                    "y": {"datum": 0, "type": "quantitative", "scale": {"domain": [0,4], "nice": false}}, "y2": {"datum": 0}}},
                 {"data": {"values": [{}]}, "mark": {"type": "rule", "color": "#333333", "strokeWidth": 1, "xOffset": -2, "x2Offset": 2, "yOffset": 4, "y2Offset": -4},
                  "encoding": {"x": {"datum": 148, "type": "quantitative", "scale": {"domain": [0,60,180], "range": [0,95,129], "nice": false, "zero": false}, "axis": null}, "x2": {"datum": 148},
                    "y": {"datum": 0, "type": "quantitative", "scale": {"domain": [0,4], "nice": false}}, "y2": {"datum": 0}}}
               ]},
              {"width": 146, "height": 126,
               "title": {"text": "d", "anchor": "start", "frame": "group", "dx": -48.5, "dy": 19, "offset": 0, "fontSize": 16, "fontWeight": "bold", "color": "#111111"},
               "data": {"name": "pts"},
               "resolve": {"scale": {"color": "independent", "fill": "independent", "shape": "independent", "stroke": "independent", "strokeDash": "independent"}, "axis": {"x": "independent"}},
               "layer": [
                 {"transform": [{"filter": "datum.panel==='d'"}], "mark": {"type": "errorbar", "ticks": {"size": 7, "thickness": 1}, "rule": {"strokeWidth": 1}},
                  "encoding": {"x": {"field": "day", "type": "quantitative", "scale": {"domain": [0,60,180], "range": [0,95,129], "nice": false, "zero": false}, "axis": null},
                    "y": {"field": "lo", "type": "quantitative", "title": "Mean Fold Rise", "scale": {"domain": [0,2.5], "nice": false},
                      "axis": {"values": [0,0.5,1,1.5,2,2.5], "tickCount": 10, "format": ".1f", "title": "Mean Fold Rise", "tickSize": 4, "labelPadding": 2, "titlePadding": 8, "labelOverlap": false}}, "y2": {"field": "hi"},
                    "color": {"field": "group", "type": "nominal", "scale": {"domain": ["Placebo","Medium","High"], "range": ["#4d4d4d","#5a5a5a","#f4a06a"]}, "legend": null}}},
                 {"transform": [{"filter": "datum.panel==='d'"}], "mark": {"type": "line", "strokeWidth": 1},
                  "encoding": {"x": {"field": "day", "type": "quantitative", "scale": {"domain": [0,60,180], "range": [0,95,129], "nice": false, "zero": false}, "axis": null},
                    "y": {"field": "mean", "type": "quantitative", "scale": {"domain": [0,2.5], "nice": false}},
                    "color": {"field": "group", "type": "nominal", "scale": {"domain": ["Placebo","Medium","High"], "range": ["#3f3f3f","#3f3f3f","#ef7a36"]}, "legend": null},
                    "strokeDash": {"field": "group", "type": "nominal", "scale": {"domain": ["Placebo","Medium","High"], "range": [[4,3],[1,0],[1,0]]}, "legend": null}}},
                 {"transform": [{"filter": "datum.panel==='d'"}], "mark": {"type": "point", "filled": true, "size": 40, "stroke": "#3d3d3d", "strokeWidth": 1, "opacity": 1},
                  "encoding": {"x": {"field": "day", "type": "quantitative", "scale": {"domain": [0,60,180], "range": [0,95,129], "nice": false, "zero": false},
                      "axis": {"values": [1,8,29,60,180], "tickCount": 10, "labelExpr": "'D' + datum.value", "labelAngle": -45, "title": null, "tickSize": 5, "labelPadding": 1}},
                    "y": {"field": "mean", "type": "quantitative", "scale": {"domain": [0,2.5], "nice": false},
                      "axis": {"values": [0,0.5,1,1.5,2,2.5], "tickCount": 10, "format": ".1f", "title": "Mean Fold Rise", "tickSize": 4, "labelPadding": 2, "titlePadding": 8, "labelOverlap": false}},
                    "shape": {"field": "group", "type": "nominal", "scale": {"domain": ["Placebo","Medium","High"], "range": ["triangle-up","circle","square"]}, "legend": null},
                    "fill": {"field": "group", "type": "nominal", "scale": {"domain": ["Placebo","Medium","High"], "range": ["#ffffff","#9e9e9e","#e86d1f"]}, "legend": null}}},
                 {"data": {"name": "stars"}, "transform": [{"filter": "datum.panel==='d'"}], "mark": {"type": "text", "align": "left", "baseline": "middle", "dx": 4, "dy": 4, "fontSize": 15},
                  "encoding": {"x": {"field": "day", "type": "quantitative", "scale": {"domain": [0,60,180], "range": [0,95,129], "nice": false, "zero": false}, "axis": null},
                    "y": {"field": "at", "type": "quantitative", "scale": {"domain": [0,2.5], "nice": false}},
                    "text": {"field": "sig"},
                    "color": {"field": "group", "type": "nominal", "scale": {"domain": ["Medium","High"], "range": ["#707070","#f0603a"]}, "legend": null}}},
                 {"data": {"values": [{}]}, "mark": {"type": "rect", "fill": "#ffffff", "yOffset": 3},
                  "encoding": {"x": {"datum": 124, "type": "quantitative", "scale": {"domain": [0,60,180], "range": [0,95,129], "nice": false, "zero": false},
                      "axis": {"orient": "top", "title": "GII.4 IgA", "labels": false, "ticks": false, "domain": false, "titleFontSize": 12, "titleFontWeight": "normal", "titlePadding": 9.5}},
                    "x2": {"datum": 148}, "y": {"datum": 0, "type": "quantitative", "scale": {"domain": [0,2.5], "nice": false}}, "y2": {"datum": 2.5}}},
                 {"data": {"values": [{}]}, "mark": {"type": "rule", "color": "#333333", "strokeWidth": 1, "yOffset": 4, "y2Offset": -4},
                  "encoding": {"x": {"datum": 124, "type": "quantitative", "scale": {"domain": [0,60,180], "range": [0,95,129], "nice": false, "zero": false}, "axis": null},
                    "y": {"datum": 0, "type": "quantitative", "scale": {"domain": [0,2.5], "nice": false}}, "y2": {"datum": 0}}},
                 {"data": {"values": [{}]}, "mark": {"type": "rule", "color": "#333333", "strokeWidth": 1, "yOffset": 4, "y2Offset": -4},
                  "encoding": {"x": {"datum": 148, "type": "quantitative", "scale": {"domain": [0,60,180], "range": [0,95,129], "nice": false, "zero": false}, "axis": null},
                    "y": {"datum": 0, "type": "quantitative", "scale": {"domain": [0,2.5], "nice": false}}, "y2": {"datum": 0}}}
               ]},
              {"width": 131, "height": 126,
               "title": {"text": "f", "anchor": "start", "frame": "group", "dx": -56.5, "dy": 19, "offset": 0, "fontSize": 16, "fontWeight": "bold", "color": "#111111"},
               "data": {"name": "pts"},
               "resolve": {"scale": {"color": "independent", "fill": "independent", "shape": "independent", "stroke": "independent", "strokeDash": "independent"}, "axis": {"x": "independent"}},
               "layer": [
                 {"transform": [{"filter": "datum.panel==='f'"}], "mark": {"type": "errorbar", "ticks": {"size": 7, "thickness": 1}, "rule": {"strokeWidth": 1}},
                  "encoding": {"x": {"field": "day", "type": "quantitative", "scale": {"domain": [0,60,180], "range": [0,95,129], "nice": false, "zero": false}, "axis": null},
                    "y": {"field": "lo", "type": "quantitative", "title": "Mean Fold Rise", "scale": {"domain": [0,8], "nice": false},
                      "axis": {"values": [0,2,4,6,8], "tickCount": 10, "format": "d", "title": "Mean Fold Rise", "tickSize": 4, "labelPadding": 2, "titlePadding": 8, "labelOverlap": false}}, "y2": {"field": "hi"},
                    "color": {"field": "group", "type": "nominal", "scale": {"domain": ["Placebo","Medium","High"], "range": ["#4d4d4d","#5a5a5a","#f4a06a"]}, "legend": null}}},
                 {"transform": [{"filter": "datum.panel==='f'"}], "mark": {"type": "line", "strokeWidth": 1},
                  "encoding": {"x": {"field": "day", "type": "quantitative", "scale": {"domain": [0,60,180], "range": [0,95,129], "nice": false, "zero": false}, "axis": null},
                    "y": {"field": "mean", "type": "quantitative", "scale": {"domain": [0,8], "nice": false}},
                    "color": {"field": "group", "type": "nominal", "scale": {"domain": ["Placebo","Medium","High"], "range": ["#3f3f3f","#3f3f3f","#ef7a36"]}, "legend": null},
                    "strokeDash": {"field": "group", "type": "nominal", "scale": {"domain": ["Placebo","Medium","High"], "range": [[4,3],[1,0],[1,0]]}, "legend": null}}},
                 {"transform": [{"filter": "datum.panel==='f'"}], "mark": {"type": "point", "filled": true, "size": 40, "stroke": "#3d3d3d", "strokeWidth": 1, "opacity": 1},
                  "encoding": {"x": {"field": "day", "type": "quantitative", "scale": {"domain": [0,60,180], "range": [0,95,129], "nice": false, "zero": false},
                      "axis": {"values": [1,8,29,60,180], "tickCount": 10, "labelExpr": "'D' + datum.value", "labelAngle": -45, "title": null, "tickSize": 5, "labelPadding": 1}},
                    "y": {"field": "mean", "type": "quantitative", "scale": {"domain": [0,8], "nice": false},
                      "axis": {"values": [0,2,4,6,8], "tickCount": 10, "format": "d", "title": "Mean Fold Rise", "tickSize": 4, "labelPadding": 2, "titlePadding": 8, "labelOverlap": false}},
                    "shape": {"field": "group", "type": "nominal", "scale": {"domain": ["Placebo","Medium","High"], "range": ["triangle-up","circle","square"]}, "legend": null},
                    "fill": {"field": "group", "type": "nominal", "scale": {"domain": ["Placebo","Medium","High"], "range": ["#ffffff","#9e9e9e","#e86d1f"]}, "legend": null}}},
                 {"data": {"name": "stars"}, "transform": [{"filter": "datum.panel==='f'"}], "mark": {"type": "text", "align": "left", "baseline": "middle", "dx": 4, "dy": 4, "fontSize": 15},
                  "encoding": {"x": {"field": "day", "type": "quantitative", "scale": {"domain": [0,60,180], "range": [0,95,129], "nice": false, "zero": false}, "axis": null},
                    "y": {"field": "at", "type": "quantitative", "scale": {"domain": [0,8], "nice": false}},
                    "text": {"field": "sig"},
                    "color": {"field": "group", "type": "nominal", "scale": {"domain": ["Medium","High"], "range": ["#707070","#f0603a"]}, "legend": null}}},
                 {"data": {"values": [{}]}, "mark": {"type": "rect", "fill": "#ffffff", "yOffset": 3},
                  "encoding": {"x": {"datum": 124, "type": "quantitative", "scale": {"domain": [0,60,180], "range": [0,95,129], "nice": false, "zero": false},
                      "axis": {"orient": "top", "title": "GI.1 IgA", "labels": false, "ticks": false, "domain": false, "titleFontSize": 12, "titleFontWeight": "normal", "titlePadding": 9.5}},
                    "x2": {"datum": 148}, "y": {"datum": 0, "type": "quantitative", "scale": {"domain": [0,8], "nice": false}}, "y2": {"datum": 8}}},
                 {"data": {"values": [{}]}, "mark": {"type": "rule", "color": "#333333", "strokeWidth": 1, "xOffset": -2, "x2Offset": 2, "yOffset": 4, "y2Offset": -4},
                  "encoding": {"x": {"datum": 124, "type": "quantitative", "scale": {"domain": [0,60,180], "range": [0,95,129], "nice": false, "zero": false}, "axis": null}, "x2": {"datum": 124},
                    "y": {"datum": 0, "type": "quantitative", "scale": {"domain": [0,8], "nice": false}}, "y2": {"datum": 0}}},
                 {"data": {"values": [{}]}, "mark": {"type": "rule", "color": "#333333", "strokeWidth": 1, "xOffset": -2, "x2Offset": 2, "yOffset": 4, "y2Offset": -4},
                  "encoding": {"x": {"datum": 148, "type": "quantitative", "scale": {"domain": [0,60,180], "range": [0,95,129], "nice": false, "zero": false}, "axis": null}, "x2": {"datum": 148},
                    "y": {"datum": 0, "type": "quantitative", "scale": {"domain": [0,8], "nice": false}}, "y2": {"datum": 0}}}
               ]},
              {"width": 131, "height": 126,
               "title": {"text": "h", "anchor": "start", "frame": "group", "dx": -51, "dy": 19, "offset": 0, "fontSize": 16, "fontWeight": "bold", "color": "#111111"},
               "data": {"name": "pts"},
               "resolve": {"scale": {"color": "independent", "fill": "independent", "shape": "independent", "stroke": "independent", "strokeDash": "independent"}, "axis": {"x": "independent"}},
               "layer": [
                 {"transform": [{"filter": "datum.panel==='h'"}], "mark": {"type": "errorbar", "ticks": {"size": 7, "thickness": 1}, "rule": {"strokeWidth": 1}},
                  "encoding": {"x": {"field": "day", "type": "quantitative", "scale": {"domain": [0,60,180], "range": [0,95,129], "nice": false, "zero": false}, "axis": null},
                    "y": {"field": "lo", "type": "quantitative", "title": "Mean Fold Rise", "scale": {"domain": [0,15], "nice": false},
                      "axis": {"values": [0,5,10,15], "tickCount": 10, "format": "d", "title": "Mean Fold Rise", "tickSize": 4, "labelPadding": 2, "titlePadding": 8, "labelOverlap": false}}, "y2": {"field": "hi"},
                    "color": {"field": "group", "type": "nominal", "scale": {"domain": ["Placebo","Medium","High"], "range": ["#4d4d4d","#5a5a5a","#f4a06a"]}, "legend": null}}},
                 {"transform": [{"filter": "datum.panel==='h'"}], "mark": {"type": "line", "strokeWidth": 1},
                  "encoding": {"x": {"field": "day", "type": "quantitative", "scale": {"domain": [0,60,180], "range": [0,95,129], "nice": false, "zero": false}, "axis": null},
                    "y": {"field": "mean", "type": "quantitative", "scale": {"domain": [0,15], "nice": false}},
                    "color": {"field": "group", "type": "nominal", "scale": {"domain": ["Placebo","Medium","High"], "range": ["#3f3f3f","#3f3f3f","#ef7a36"]}, "legend": null},
                    "strokeDash": {"field": "group", "type": "nominal", "scale": {"domain": ["Placebo","Medium","High"], "range": [[4,3],[1,0],[1,0]]}, "legend": null}}},
                 {"transform": [{"filter": "datum.panel==='h'"}], "mark": {"type": "point", "filled": true, "size": 40, "stroke": "#3d3d3d", "strokeWidth": 1, "opacity": 1},
                  "encoding": {"x": {"field": "day", "type": "quantitative", "scale": {"domain": [0,60,180], "range": [0,95,129], "nice": false, "zero": false},
                      "axis": {"values": [1,8,29,60,180], "tickCount": 10, "labelExpr": "'D' + datum.value", "labelAngle": -45, "title": null, "tickSize": 5, "labelPadding": 1}},
                    "y": {"field": "mean", "type": "quantitative", "scale": {"domain": [0,15], "nice": false},
                      "axis": {"values": [0,5,10,15], "tickCount": 10, "format": "d", "title": "Mean Fold Rise", "tickSize": 4, "labelPadding": 2, "titlePadding": 8, "labelOverlap": false}},
                    "shape": {"field": "group", "type": "nominal", "scale": {"domain": ["Placebo","Medium","High"], "range": ["triangle-up","circle","square"]}, "legend": null},
                    "fill": {"field": "group", "type": "nominal", "scale": {"domain": ["Placebo","Medium","High"], "range": ["#ffffff","#9e9e9e","#e86d1f"]}, "legend": null}}},
                 {"data": {"name": "stars"}, "transform": [{"filter": "datum.panel==='h'"}], "mark": {"type": "text", "align": "left", "baseline": "middle", "dx": 4, "dy": 4, "fontSize": 15},
                  "encoding": {"x": {"field": "day", "type": "quantitative", "scale": {"domain": [0,60,180], "range": [0,95,129], "nice": false, "zero": false}, "axis": null},
                    "y": {"field": "at", "type": "quantitative", "scale": {"domain": [0,15], "nice": false}},
                    "text": {"field": "sig"},
                    "color": {"field": "group", "type": "nominal", "scale": {"domain": ["Medium","High"], "range": ["#707070","#f0603a"]}, "legend": null}}},
                 {"data": {"values": [{}]}, "mark": {"type": "rect", "fill": "#ffffff", "yOffset": 3},
                  "encoding": {"x": {"datum": 124, "type": "quantitative", "scale": {"domain": [0,60,180], "range": [0,95,129], "nice": false, "zero": false},
                      "axis": {"orient": "top", "title": "GII.4 IgA", "labels": false, "ticks": false, "domain": false, "titleFontSize": 12, "titleFontWeight": "normal", "titlePadding": 9.5}},
                    "x2": {"datum": 148}, "y": {"datum": 0, "type": "quantitative", "scale": {"domain": [0,15], "nice": false}}, "y2": {"datum": 15}}},
                 {"data": {"values": [{}]}, "mark": {"type": "rule", "color": "#333333", "strokeWidth": 1, "yOffset": 4, "y2Offset": -4},
                  "encoding": {"x": {"datum": 124, "type": "quantitative", "scale": {"domain": [0,60,180], "range": [0,95,129], "nice": false, "zero": false}, "axis": null},
                    "y": {"datum": 0, "type": "quantitative", "scale": {"domain": [0,15], "nice": false}}, "y2": {"datum": 0}}},
                 {"data": {"values": [{}]}, "mark": {"type": "rule", "color": "#333333", "strokeWidth": 1, "yOffset": 4, "y2Offset": -4},
                  "encoding": {"x": {"datum": 148, "type": "quantitative", "scale": {"domain": [0,60,180], "range": [0,95,129], "nice": false, "zero": false}, "axis": null},
                    "y": {"datum": 0, "type": "quantitative", "scale": {"domain": [0,15], "nice": false}}, "y2": {"datum": 0}}},
                 {"transform": [{"filter": "false"}], "mark": {"type": "point", "filled": true, "strokeWidth": 1},
                  "encoding": {"x": {"field": "day", "type": "quantitative", "scale": {"domain": [0,60,180], "range": [0,95,129], "nice": false, "zero": false}, "axis": null},
                    "y": {"field": "mean", "type": "quantitative", "scale": {"domain": [0,15], "nice": false}},
                    "shape": {"field": "group", "type": "nominal", "scale": {"domain": ["Placebo","Medium","High"], "range": ["M-1,0.1H-0.6M0.6,0.1H1M0,-0.55L0.6,0.45L-0.6,0.45Z", "M-1,0H-0.55M0.55,0H1M-0.55,0A0.55,0.55,0,1,1,0.55,0A0.55,0.55,0,1,1,-0.55,0Z", "M-1,0H-0.55M0.55,0H1M-0.55,-0.55H0.55V0.55H-0.55Z"]},
                      "legend": {"orient": "none", "legendX": 90, "legendY": -10, "title": null, "labelFontSize": 11, "labelColor": "#222222", "symbolSize": 100, "symbolStrokeWidth": 1, "labelOffset": 6, "rowPadding": 2, "padding": 0}},
                    "fill": {"field": "group", "type": "nominal", "scale": {"domain": ["Placebo","Medium","High"], "range": ["#ffffff","#9e9e9e","#e86d1f"]},
                      "legend": {"orient": "none", "legendX": 90, "legendY": -10, "title": null, "labelFontSize": 11, "labelColor": "#222222", "symbolSize": 100, "symbolStrokeWidth": 1, "labelOffset": 6, "rowPadding": 2, "padding": 0}},
                    "stroke": {"field": "group", "type": "nominal", "scale": {"domain": ["Placebo","Medium","High"], "range": ["#444444","#444444","#e8702a"]},
                      "legend": {"orient": "none", "legendX": 90, "legendY": -10, "title": null, "labelFontSize": 11, "labelColor": "#222222", "symbolSize": 100, "symbolStrokeWidth": 1, "labelOffset": 6, "rowPadding": 2, "padding": 0}}}}
               ]}
          ]
        }
      ]
    }
  ]
}
